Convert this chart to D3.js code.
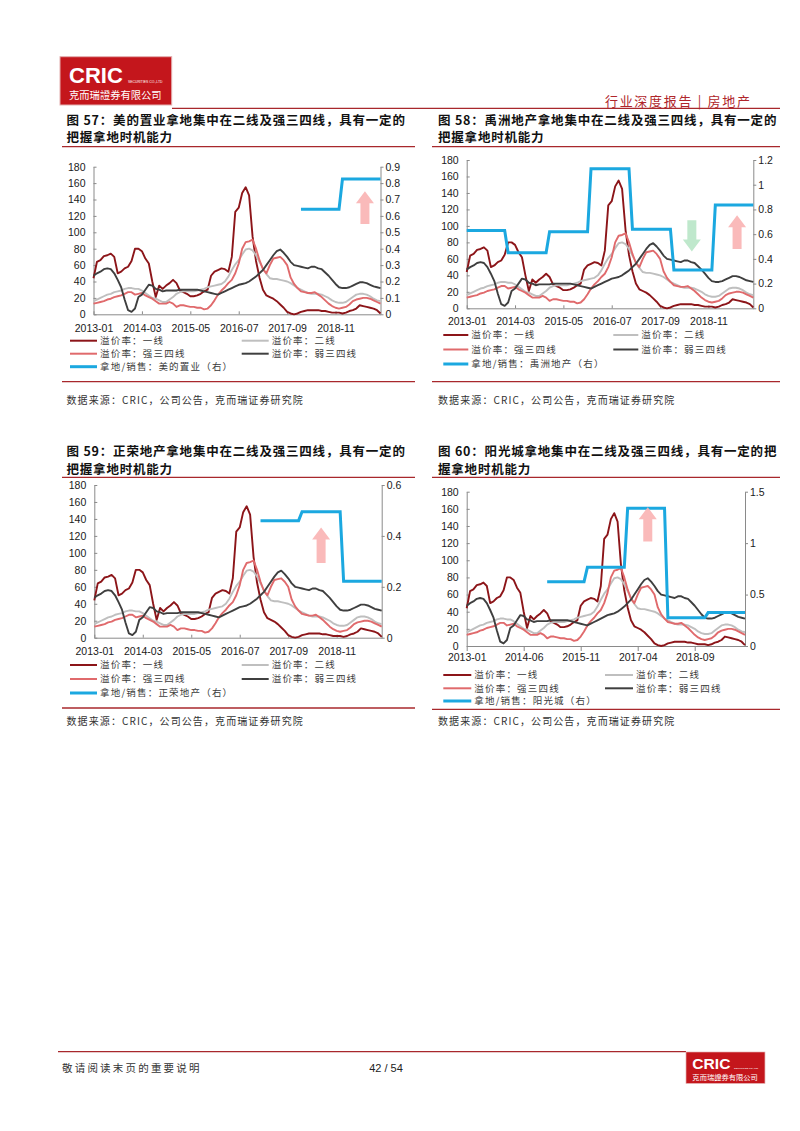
<!DOCTYPE html>
<html>
<head>
<meta charset="utf-8">
<script src="https://cdn.jsdelivr.net/npm/d3@7"></script>
<style>
  body { margin: 0; background: #fff; }
  text { font-family: "Noto Sans CJK SC", "Liberation Sans", sans-serif; }
  .num { font-family: "Liberation Sans", Arial, sans-serif; }
</style>
</head>
<body>
<svg id="page" width="800" height="1131"></svg>
<script>
// monthly overflow rates (%), 2013-01 .. 2019-12
var tier1 = [44,64,66,71,72,74,70,50,52,56,58,65,80,80,77,68,62,40,21,35,31,35,38,42,38,29,27,25,22,22,
  23,25,28,30,47,52,54,56,55,52,70,125,130,148,155,145,95,65,45,30,23,21,19,16,12,8,3,1,0,1,
  3,4,5,5,5,5,4,4,3,2,2,2,1,2,4,5,7,11,10,9,8,7,5,1];
var tier2 = [16,18,20,22,24,25,27,28,29,31,32,32,31,31,29,26,23,20,19,17,15,15,18,21,25,27,28,28,28,28,
  29,30,31,33,34,35,36,37,40,46,54,61,66,73,79,80,78,72,64,56,49,44,43,43,42,41,40,38,35,32,
  30,28,26,25,25,25,24,22,20,17,15,14,14,15,18,21,24,25,25,24,22,19,17,16];
var strong34 = [13,14,15,16,18,19,21,22,23,25,27,27,24,25,26,23,21,19,16,13,13,13,15,13,9,11,11,10,9,9,
  8,8,6,7,11,17,24,29,33,38,42,50,62,80,88,89,91,80,66,55,50,60,68,69,70,66,60,45,37,32,
  28,27,26,26,27,24,21,17,13,10,8,7,8,9,12,16,18,19,20,20,19,17,15,13];
var weak34 = [47,50,52,55,56,55,50,42,33,18,5,3,7,21,24,30,36,35,31,30,28,29,29,29,29,30,30,30,30,30,
  30,29,28,27,26,25,24,26,28,30,32,34,36,37,38,40,43,46,50,54,60,66,72,77,79,75,70,64,60,59,
  58,57,56,58,58,56,55,51,47,42,37,33,32,32,33,35,37,39,39,38,36,34,33,32];

// land purchase / sales ratio, one value per year 2013..2019 (right axis)
var landMidea  = [null, null, null, null, null, 0.64, 0.825];
var landYuzhou = [0.63, 0.45, 0.62, 1.13, 0.64, 0.31, 0.835];
var landZhenro = [null, null, null, null, 0.46, 0.495, 0.222];
var landYango  = [null, null, 0.625, 0.765, 1.34, 0.275, 0.325];

var ticksA = ["2013-01", "2014-03", "2015-05", "2016-07", "2017-09", "2018-11"];
var ticksB = ["2013-01", "2014-06", "2015-11", "2017-04", "2018-09"];

var monthLabels = [];
for (var yr = 2013; yr <= 2019; yr++) {
  for (var mo = 1; mo <= 12; mo++) monthLabels.push(yr + "-" + (mo < 10 ? "0" + mo : mo));
}

var RED = "#a8282c";
var series = [
  {name: "溢价率：一线", values: tier1, color: "#8c1519"},
  {name: "溢价率：二线", values: tier2, color: "#bfbfbf"},
  {name: "溢价率：强三四线", values: strong34, color: "#e06a6c"},
  {name: "溢价率：弱三四线", values: weak34, color: "#3f3f3f"}
];
var BLUE = "#1ba8e0";

var panels = [
  {title1: "图 57：美的置业拿地集中在二线及强三四线，具有一定的", title2: "把握拿地时机能力",
   company: "美的置业", land: landMidea, rMax: 0.9, rStep: 0.1, ticks: ticksA,
   arrows: [{m: 78.5, from: 110, to: 150, color: "#f9b3b3"}],
   tx: 66.5, ty: 124.7, rule: [62, 415, 146.7],
   x0: 93.5, x1: 380.5, y0: 314.3, yTop: 166.7, xTick: -3, xPad: 10,
   lx1: 70, lx2: 241.7, llen: 27, rows: [340.7, 353.7, 366.7], srcRule: 381.7, srcY: 404},
  {title1: "图 58：禹洲地产拿地集中在二线及强三四线，具有一定的", title2: "把握拿地时机能力",
   company: "禹洲地产", land: landYuzhou, rMax: 1.2, rStep: 0.2, ticks: ticksA,
   arrows: [{m: 65.2, from: 107, to: 69, color: "#b8e6c6"}, {m: 78.3, from: 72, to: 113, color: "#f9b3b3"}],
   tx: 438, ty: 124.7, rule: [432, 780, 146.7],
   x0: 466.7, x1: 753.3, y0: 308.3, yTop: 160, xTick: -3, xPad: 9,
   lx1: 443.3, lx2: 613.3, llen: 25, rows: [335, 349.5, 364], srcRule: 381.7, srcY: 404},
  {title1: "图 59：正荣地产拿地集中在二线及强三四线，具有一定的", title2: "把握拿地时机能力",
   company: "正荣地产", land: landZhenro, rMax: 0.6, rStep: 0.2, ticks: ticksA,
   arrows: [{m: 65.5, from: 88, to: 130, color: "#f9b3b3"}],
   tx: 66.5, ty: 456.4, rule: [62, 415, 477.3],
   x0: 94.3, x1: 381.7, y0: 637.7, yTop: 485, xTick: -3, xPad: 10,
   lx1: 70, lx2: 241.7, llen: 27, rows: [665, 679, 693], srcRule: 708, srcY: 725},
  {title1: "图 60：阳光城拿地集中在二线及强三四线，具有一定的把", title2: "握拿地时机能力",
   company: "阳光城", land: landYango, rMax: 1.5, rStep: 0.5, ticks: ticksB,
   arrows: [{m: 54, from: 122, to: 162, color: "#f9b3b3"}],
   tx: 438, ty: 456.4, rule: [432, 780, 477.3],
   x0: 466.7, x1: 745, y0: 646, yTop: 491.7, xTick: 5, xPad: 3,
   lx1: 443.3, lx2: 605, llen: 28, rows: [675, 688.3, 701], srcRule: 709.3, srcY: 725}
];

var svg = d3.select("#page");
svg.append("rect").attr("width", 800).attr("height", 1131).attr("fill", "#fff");

function drawLogo(x, y, sx, sy) {
  var g = svg.append("g").attr("transform", "translate(" + x + "," + y + ") scale(" + sx + "," + sy + ")");
  g.append("rect").attr("width", 111.7).attr("height", 48.3).attr("fill", "#c4161c")
    .attr("stroke", "#e3b0b0").attr("stroke-width", 1);
  g.append("text").attr("class", "num").attr("x", 9).attr("y", 26)
    .attr("fill", "#fff").attr("font-size", 22).attr("font-weight", "bold")
    .text("CRIC");
  g.append("text").attr("class", "num").attr("x", 68).attr("y", 26)
    .attr("fill", "#fff").attr("font-size", 3.4).text("SECURITIES CO.,LTD");
  g.append("text").attr("x", 9).attr("y", 42.5).attr("fill", "#fff")
    .attr("font-size", 10.3).text("克而瑞證券有限公司");
}

// page header
drawLogo(60, 56.7, 1, 1);
svg.append("line").attr("x1", 172).attr("x2", 780).attr("y1", 108.3).attr("y2", 108.3)
  .attr("stroke", RED).attr("stroke-width", 1.3);
svg.append("text").attr("x", 751.7).attr("y", 105.5).attr("text-anchor", "end")
  .attr("fill", "#b0262b").attr("font-size", 13).attr("letter-spacing", 1.7)
  .text("行业深度报告 | 房地产");

function arrowPath(cx, yBase, yTip) {
  var dir = yTip < yBase ? -1 : 1;
  var head = 12 * dir, hw = 9, sw = 4.5;
  var yNeck = yTip - head;
  return "M" + (cx - sw) + "," + yBase + "L" + (cx - sw) + "," + yNeck + "L" + (cx - hw) + "," + yNeck +
    "L" + cx + "," + yTip + "L" + (cx + hw) + "," + yNeck + "L" + (cx + sw) + "," + yNeck +
    "L" + (cx + sw) + "," + yBase + "Z";
}

function drawPanel(p) {
  var g = svg.append("g");
  var x = d3.scalePoint().domain(monthLabels).range([p.x0, p.x1]);
  var yL = d3.scaleLinear().domain([0, 180]).range([p.y0, p.yTop]);
  var yR = d3.scaleLinear().domain([0, p.rMax]).range([p.y0, p.yTop]);

  // title
  [p.title1, p.title2].forEach(function(t, i) {
    g.append("text").attr("x", p.tx).attr("y", p.ty + i * 17.3)
      .attr("font-size", 12.5).attr("font-weight", "bold").attr("letter-spacing", 0.8)
      .attr("fill", "#111").text(t);
  });
  g.append("line").attr("x1", p.rule[0]).attr("x2", p.rule[1]).attr("y1", p.rule[2]).attr("y2", p.rule[2])
    .attr("stroke", RED).attr("stroke-width", 1.3);

  // axes
  var leftAxis = d3.axisLeft(yL).tickValues(d3.range(0, 181, 20)).tickSizeInner(-3).tickSizeOuter(0).tickPadding(8);
  var rightAxis = d3.axisRight(yR).tickValues(d3.range(0, p.rMax + 1e-9, p.rStep))
    .tickFormat(function(d) { return String(+d.toFixed(2)); }).tickSizeInner(3).tickSizeOuter(0).tickPadding(2);
  var bottomAxis = d3.axisBottom(x).tickValues(p.ticks).tickSizeInner(p.xTick).tickSizeOuter(0).tickPadding(p.xPad);

  var gl = g.append("g").attr("transform", "translate(" + p.x0 + ",0)").call(leftAxis);
  var gr = g.append("g").attr("transform", "translate(" + p.x1 + ",0)").call(rightAxis);
  var gb = g.append("g").attr("transform", "translate(0," + p.y0 + ")").call(bottomAxis);
  [gl, gr, gb].forEach(function(a) {
    a.selectAll("path,line").attr("stroke", "#8a8a8a");
    a.selectAll("text").attr("class", "num").attr("font-size", 10.5).attr("fill", "#1a1a1a");
    a.attr("font-family", null);
  });

  // lines
  var line = d3.line()
    .defined(function(d) { return d != null; })
    .x(function(d, i) { return x(monthLabels[i]); });
  series.forEach(function(s) {
    g.append("path").datum(s.values)
      .attr("d", line.y(function(d) { return yL(d); }))
      .attr("fill", "none").attr("stroke", s.color).attr("stroke-width", 1.9)
      .attr("stroke-linejoin", "round");
  });
  var landMonthly = monthLabels.map(function(m, i) { return p.land[Math.floor(i / 12)]; });
  g.append("path").datum(landMonthly)
    .attr("d", line.y(function(d) { return yR(d); }))
    .attr("fill", "none").attr("stroke", BLUE).attr("stroke-width", 3);

  // arrows
  p.arrows.forEach(function(a) {
    var cx = x(monthLabels[Math.floor(a.m)]) + (a.m % 1) * (x.step());
    g.append("path").attr("d", arrowPath(cx, yL(a.from), yL(a.to)))
      .attr("fill", a.color).attr("opacity", 0.9);
  });

  // legend
  var items = [
    {s: series[0], x: p.lx1, row: 0}, {s: series[1], x: p.lx2, row: 0},
    {s: series[2], x: p.lx1, row: 1}, {s: series[3], x: p.lx2, row: 1},
    {s: {name: "拿地/销售：" + p.company + "（右）", color: BLUE}, x: p.lx1, row: 2, w: 3}
  ];
  var lg = g.append("g");
  items.forEach(function(it) {
    var yy = p.rows[it.row];
    lg.append("line").attr("x1", it.x).attr("x2", it.x + p.llen).attr("y1", yy).attr("y2", yy)
      .attr("stroke", it.s.color).attr("stroke-width", it.w || 2);
    lg.append("text").attr("x", it.x + p.llen + 3).attr("y", yy + 3.4)
      .attr("font-size", 9.5).attr("letter-spacing", 1.2).attr("fill", "#3a3a3a").text(it.s.name);
  });

  // source
  g.append("line").attr("x1", p.rule[0]).attr("x2", p.rule[1]).attr("y1", p.srcRule).attr("y2", p.srcRule)
    .attr("stroke", RED).attr("stroke-width", 1.3);
  g.append("text").attr("x", p.tx).attr("y", p.srcY).attr("font-size", 10).attr("letter-spacing", 1.1)
    .attr("fill", "#333").text("数据来源：CRIC，公司公告，克而瑞证券研究院");
}

panels.forEach(drawPanel);

// page footer
svg.append("line").attr("x1", 58).attr("x2", 686).attr("y1", 1051.7).attr("y2", 1051.7)
  .attr("stroke", RED).attr("stroke-width", 1.3);
svg.append("text").attr("x", 62).attr("y", 1072).attr("font-size", 10.5).attr("letter-spacing", 2.2)
  .attr("fill", "#333").text("敬请阅读末页的重要说明");
svg.append("text").attr("class", "num").attr("x", 386).attr("y", 1072).attr("text-anchor", "middle")
  .attr("font-size", 11).attr("fill", "#222").text("42 / 54");
drawLogo(686, 1052, 0.707, 0.65);
</script>
</body>
</html>
